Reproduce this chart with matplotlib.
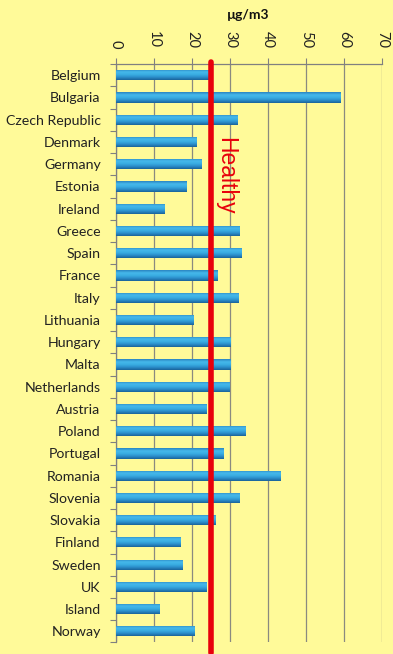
import numpy as np
import matplotlib
matplotlib.use("Agg")
import matplotlib.pyplot as plt
from matplotlib.colors import LinearSegmentedColormap

countries = ["Belgium", "Bulgaria", "Czech Republic", "Denmark", "Germany", "Estonia",
             "Ireland", "Greece", "Spain", "France", "Italy", "Lithuania", "Hungary",
             "Malta", "Netherlands", "Austria", "Poland", "Portugal", "Romania",
             "Slovenia", "Slovakia", "Finland", "Sweden", "UK", "Island", "Norway"]
values = [24.3, 59.1, 32.0, 21.2, 22.5, 18.6, 12.8, 32.5, 33.1, 26.8, 32.3, 20.4, 30.0,
          30.0, 29.8, 23.7, 34.0, 28.4, 43.3, 32.5, 26.2, 17.0, 17.5, 23.9, 11.4, 20.7]
healthy_limit = 25
healthy_label = "Healthy"
unit_label = "µg/m3"
xticks = [0, 10, 20, 30, 40, 50, 60, 70]

bg = "#FFFA99"
plt.rcParams['font.family'] = ['Lato', 'DejaVu Sans']

fig = plt.figure(figsize=(3.93, 6.54), dpi=100, facecolor=bg)
ax = fig.add_axes([0.295, 0.0176, 0.677, 0.8844])
ax.set_facecolor(bg)

y = np.arange(len(countries))
bars = ax.barh(y, values, height=0.46, color="#2E95CF", zorder=3, linewidth=0)

cmap = LinearSegmentedColormap.from_list(
    "cyl", ["#2A84C0", "#45B8EA", "#3AAEE3", "#2B8DCA", "#1A6399"])
grad = np.linspace(0, 1, 64).reshape(-1, 1)
for b in bars:
    x0, y0, w, h = b.get_x(), b.get_y(), b.get_width(), b.get_height()
    im = ax.imshow(grad, cmap=cmap, aspect="auto", extent=(x0, x0 + w, y0 + h, y0),
                   zorder=3.5, interpolation="bilinear")
    im.set_clip_path(b)

ax.set_xlim(xticks[0], xticks[-1])
ax.set_ylim(len(countries) - 0.5, -0.5)
ax.set_aspect("auto")

ax.xaxis.tick_top()
ax.set_xticks(xticks)
ax.set_xticklabels([str(t) for t in xticks], rotation=-90, fontsize=10.5)
ax.tick_params(axis="x", direction="out", length=4.5, width=0.8, color="#808080",
               pad=7, labelcolor="#222222")
ax.set_yticks(y)
ax.set_yticklabels(countries, fontsize=10.2)
ax.set_yticks(np.arange(len(countries) + 1) - 0.5, minor=True)
ax.tick_params(axis="y", which="major", length=0, pad=11, labelcolor="#222222")
ax.tick_params(axis="y", which="minor", length=4, width=0.8, color="#808080")

ax.grid(axis="x", color="#8A8A80", linewidth=0.9, zorder=1)
for s in ["right", "bottom"]:
    ax.spines[s].set_visible(False)
ax.spines["left"].set_color("#808080")
ax.spines["top"].set_color("#808080")
ax.spines["left"].set_linewidth(0.9)
ax.spines["top"].set_linewidth(0.9)

ax.plot([healthy_limit, healthy_limit], [-0.6, len(countries) - 0.05], color="#E8000B",
        linewidth=4, solid_capstyle="round", zorder=5, clip_on=False)
ax.text(healthy_limit + 0.9, 4.5, healthy_label, rotation=-90, color="#E8000B",
        fontsize=16.5, family=["Liberation Sans"], ha="left", va="center", zorder=6)

fig.text(0.632, 0.977, unit_label, ha="center", va="center", fontsize=10,
         fontweight="bold", color="#111111")

fig.savefig("out.png", dpi=100, facecolor=bg)
